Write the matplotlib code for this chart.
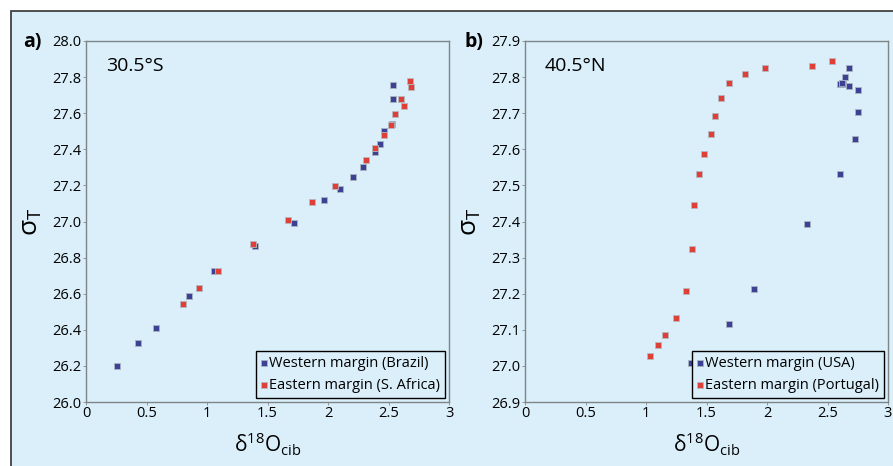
import matplotlib
matplotlib.use('Agg')
import matplotlib.pyplot as plt
from matplotlib.patches import Rectangle

plt.rcParams['font.family'] = ['Open Sans', 'DejaVu Sans']

# panel a) 30.5°S
west_a_x = [0.26, 0.43, 0.58, 0.85, 1.06, 1.40, 1.72, 1.97, 2.10, 2.21, 2.29, 2.39, 2.43, 2.46, 2.53, 2.54, 2.54]
west_a_y = [26.20, 26.325, 26.41, 26.59, 26.725, 26.865, 26.99, 27.12, 27.18, 27.245, 27.30, 27.385, 27.43, 27.50, 27.54, 27.68, 27.755]
east_a_x = [0.80, 0.93, 1.09, 1.38, 1.67, 1.865, 2.06, 2.31, 2.385, 2.46, 2.52, 2.55, 2.63, 2.60, 2.675, 2.69]
east_a_y = [26.545, 26.63, 26.725, 26.875, 27.01, 27.11, 27.195, 27.34, 27.405, 27.48, 27.535, 27.595, 27.64, 27.68, 27.78, 27.745]

# panel b) 40.5°N
west_b_x = [1.375, 1.686, 1.89, 2.33, 2.60, 2.727, 2.75, 2.752, 2.675, 2.642, 2.60, 2.627, 2.68, 2.617]
west_b_y = [27.009, 27.116, 27.213, 27.392, 27.531, 27.629, 27.704, 27.763, 27.826, 27.800, 27.782, 27.780, 27.775, 27.784]
east_b_x = [1.036, 1.10, 1.16, 1.25, 1.33, 1.38, 1.40, 1.435, 1.48, 1.537, 1.573, 1.62, 1.686, 1.815, 1.98, 2.37, 2.537]
east_b_y = [27.027, 27.059, 27.085, 27.133, 27.207, 27.324, 27.445, 27.531, 27.588, 27.643, 27.693, 27.742, 27.783, 27.809, 27.824, 27.831, 27.845]

bg = '#daeffa'
blue = '#3d4193'
red = '#de4038'

fig = plt.figure(figsize=(8.93, 4.66), dpi=100, facecolor='white')
fig.patches.append(Rectangle((11 / 893, -0.01), 1.0, 1 - 11 / 466 + 0.01, transform=fig.transFigure,
                             facecolor=bg, edgecolor='#333333', linewidth=1.2, zorder=-5))

panels = [
    dict(pos=[86 / 893, 64 / 466, 363 / 893, 361 / 466], wx=west_a_x, wy=west_a_y, ex=east_a_x, ey=east_a_y,
         ylim=(26.0, 28.0), yticks=[26.0 + 0.2 * i for i in range(11)], fmt='%.1f',
         place='30.5°S', tag='a)', tagx=23,
         labels=['Western margin (Brazil)', 'Eastern margin (S. Africa)']),
    dict(pos=[525 / 893, 64 / 466, 363 / 893, 361 / 466], wx=west_b_x, wy=west_b_y, ex=east_b_x, ey=east_b_y,
         ylim=(26.9, 27.9), yticks=[26.9 + 0.1 * i for i in range(11)], fmt='%.1f',
         place='40.5°N', tag='b)', tagx=465,
         labels=['Western margin (USA)', 'Eastern margin (Portugal)']),
]

for p in panels:
    ax = fig.add_axes(p['pos'])
    ax.set_facecolor(bg)
    ax.scatter(p['wx'], p['wy'], marker='s', s=20, color=blue, edgecolors='#aab4c4', linewidths=0.6,
               label=p['labels'][0], zorder=3)
    ax.scatter(p['ex'], p['ey'], marker='s', s=20, color=red, edgecolors='#b8b8c0', linewidths=0.6,
               label=p['labels'][1], zorder=3)
    ax.set_xlim(0, 3)
    ax.set_ylim(*p['ylim'])
    ax.set_xticks([0, 0.5, 1, 1.5, 2, 2.5, 3])
    ax.set_xticklabels(['0', '0.5', '1', '1.5', '2', '2.5', '3'])
    ax.set_yticks(p['yticks'])
    ax.set_yticklabels([p['fmt'] % v for v in p['yticks']])
    ax.tick_params(labelsize=10.5, length=2, width=0.6, color='#888888', pad=1)
    for s in ax.spines.values():
        s.set_color('#7d8589')
        s.set_linewidth(1.0)
    ax.set_xlabel(r'δ$^{\mathregular{18}}$O$_{\mathregular{cib}}$', fontsize=15, labelpad=7)
    ax.set_ylabel(r'σ$_{\mathregular{T}}$', fontsize=19, labelpad=6)
    ax.text(0.055, 0.955, p['place'], transform=ax.transAxes, fontsize=14, va='top', ha='left')
    fig.text(p['tagx'] / 893, 1 - 42 / 466, p['tag'], fontsize=14, fontweight='bold', va='center', ha='left')
    leg = ax.legend(loc='lower right', fontsize=10.5, frameon=True, fancybox=False, handlelength=0.35,
                    handletextpad=0.15, borderpad=0.35, labelspacing=0.45, markerscale=1.0,
                    borderaxespad=0.3, facecolor=bg, framealpha=1)
    leg.get_frame().set_edgecolor('black')
    leg.get_frame().set_linewidth(1.0)

fig.savefig('out.png', dpi=100, facecolor='white')
